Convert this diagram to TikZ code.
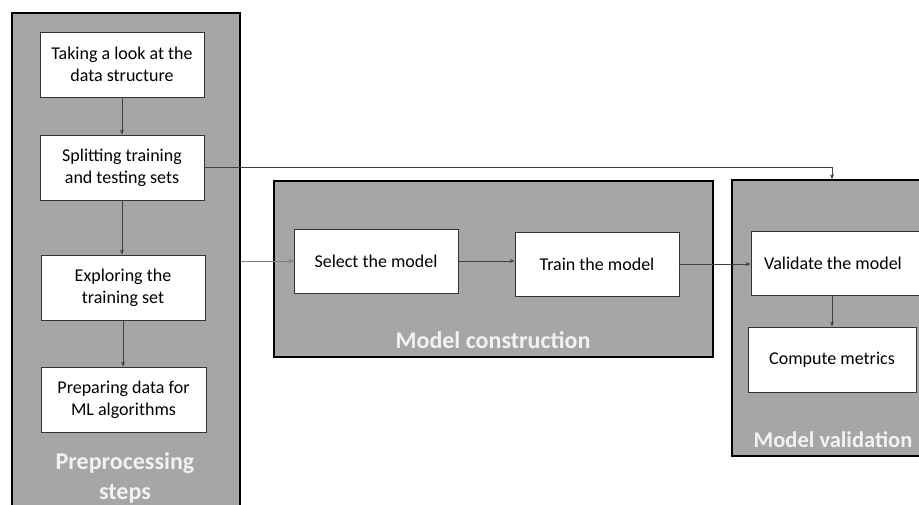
\documentclass[tikz,border=0pt]{standalone}
\usepackage{fontspec}
\setmainfont{Carlito}
\usetikzlibrary{arrows.meta}

\definecolor{panelgray}{HTML}{A6A6A6}

\tikzset{
  panel/.style={draw=black, line width=1.6pt, fill=panelgray, inner sep=0pt},
  stepbox/.style={draw=black!80, line width=0.9pt, fill=white, align=center,
    inner sep=0pt, minimum width=164pt, minimum height=65pt,
    font=\fontsize{18}{22}\selectfont},
  paneltitle/.style={text=white!95!black, align=center,
    font=\fontsize{24}{30}\selectfont\bfseries},
  flow/.style={-{Stealth[length=5pt,width=4pt]}, draw=black!75, line width=0.7pt},
}

\begin{document}
\begin{tikzpicture}[x=1pt,y=-1pt]
    \clip (0,0) rectangle (919,504);
    \fill[white] (0,0) rectangle (919,504);

    % the three stages
    \node[panel, minimum width=228pt, minimum height=520pt] (prep) at (126,273) {};
    \node[panel, minimum width=439pt, minimum height=176pt] (build) at (493.5,269) {};
    \node[panel, minimum width=208pt, minimum height=276pt] (valid) at (836,318) {};

    \node[paneltitle] (preptitle) at (125,478) {Preprocessing\\steps};
    \node[paneltitle] (buildtitle) at (493,340) {Model construction};
    \node[paneltitle, font=\fontsize{22.5}{30}\selectfont\bfseries] (validtitle) at (833,440) {Model validation};

    % preprocessing
    \node[stepbox] (look) at (122,64.5) {Taking a look at the\\data structure};
    \node[stepbox] (split) at (122,167.5) {Splitting training\\and testing sets};
    \node[stepbox] (explore) at (123,287.5) {Exploring the\\training set};
    \node[stepbox, minimum width=165pt] (prepdata) at (123.5,399.5) {Preparing data for\\ML algorithms};

    % construction
    \node[stepbox, minimum height=64pt] (select) at (376,261) {Select the model};
    \node[stepbox, minimum height=64pt] (train) at (597,264) {Train the model};

    % validation
    \node[stepbox, minimum width=174pt, minimum height=64pt] (validate) at (838,263) {Validate the model\hspace*{10pt}};
    \node[stepbox, minimum width=168pt] (compute) at (832,359.5) {Compute metrics};

    % connectors
    \draw[flow] (look) -- (split);
    \draw[flow] (split.south) -- (split.south |- explore.north);
    \draw[flow] (explore.south) -- (explore.south |- prepdata.north);
    \draw[flow, draw=gray, line width=0.5pt] (prep.east |- select.west) -- (select.west);
    \draw[flow] (select.east) -- (select.east -| train.west);
    \draw[flow] (train.east) -- (train.east -| validate.west);
    \draw[flow] (compute.north |- validate.south) -- (compute.north);
    \draw[flow] (split.east) -| (compute.north |- valid.north);

\end{tikzpicture}
\end{document}
